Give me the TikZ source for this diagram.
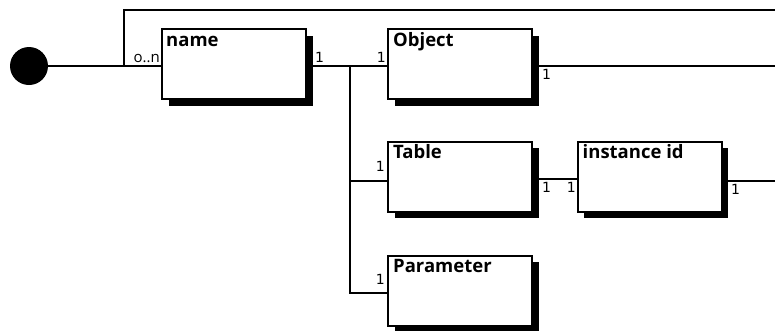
\documentclass[tikz,border=0pt]{standalone}
\usepackage{fontspec}
\setmainfont{Open Sans}
\newfontfamily\numfont{DejaVu Sans}
\usetikzlibrary{shadows}
\begin{document}
\begin{tikzpicture}[x=1pt,y=-1pt,
  conn/.style={line width=2pt},
  entity/.style={draw, line width=2pt, fill=white, minimum width=144pt, minimum height=70pt,
    inner sep=0pt, general shadow={fill=black, shadow xshift=6.5pt, shadow yshift=-6.5pt}},
  ttl/.style={font=\fontsize{18.5}{21}\selectfont\bfseries, inner sep=0pt, text height=13pt, anchor=north west},
  mult/.style={font=\numfont\fontsize{14}{16}\selectfont, inner sep=1pt},
  start/.style={circle, fill=black, minimum size=38pt, inner sep=0pt}]
\useasboundingbox (0,0) rectangle (775,330);
% nodes
\node[start] (st) at (29,66) {};
\coordinate (loopA) at (124,66);
\coordinate (loopB) at (124,10);
\coordinate (loopC) at (775,10);
\coordinate (objOut) at (775,66);
\coordinate (instOut) at (775,181);
\coordinate (jTop) at (350,66);
\coordinate (jTab) at (350,181);
\coordinate (jPar) at (350,293);
% connectors
\draw[conn] (st.east) -- (loopA) -- (163,66);
\draw[conn] (loopA) -- (loopB) -- (loopC);
\draw[conn] (jTop) -- (jPar) -- (388,293);
\draw[conn] (jTab) -- (388,181);
\draw[conn] (305,66) -- (388,66);
\draw[conn] (532,66) -- (objOut);
\draw[conn] (532,179) -- (578,179);
\draw[conn] (721,181) -- (instOut);
% boxes
\node[entity] (nm) at (234,64) {};
\node[entity] (obj) at (460,64) {};
\node[entity] (tab) at (460,176.5) {};
\node[entity] (inst) at (649.5,176.5) {};
\node[entity] (par) at (460,290.5) {};
% titles
\node[ttl] (tnm) at ([shift={(5,5)}]nm.north west) {name};
\node[ttl] (tobj) at ([shift={(6,5)}]obj.north west) {Object};
\node[ttl] (ttab) at ([shift={(6,5)}]tab.north west) {Table};
\node[ttl] (tinst) at ([shift={(6,5)}]inst.north west) {instance id};
\node[ttl] (tpar) at ([shift={(6,5)}]par.north west) {Parameter};
% multiplicities
\node[font=\fontsize{15}{17}\selectfont, inner sep=1pt, anchor=south east] (m0) at (161,64) {o..n};
\node[mult, anchor=south west] (m1) at (314,64) {1};
\node[mult, anchor=south east] (m2) at (387,64) {1};
\node[mult, anchor=north west] (m3) at (541,68) {1};
\node[mult, anchor=south east] (m4) at (386,173) {1};
\node[mult, anchor=north west] (m5) at (541,181) {1};
\node[mult, anchor=north east] (m6) at (577,181) {1};
\node[mult, anchor=north west] (m7) at (730,183) {1};
\node[mult, anchor=south east] (m8) at (386,286) {1};
\end{tikzpicture}
\end{document}
